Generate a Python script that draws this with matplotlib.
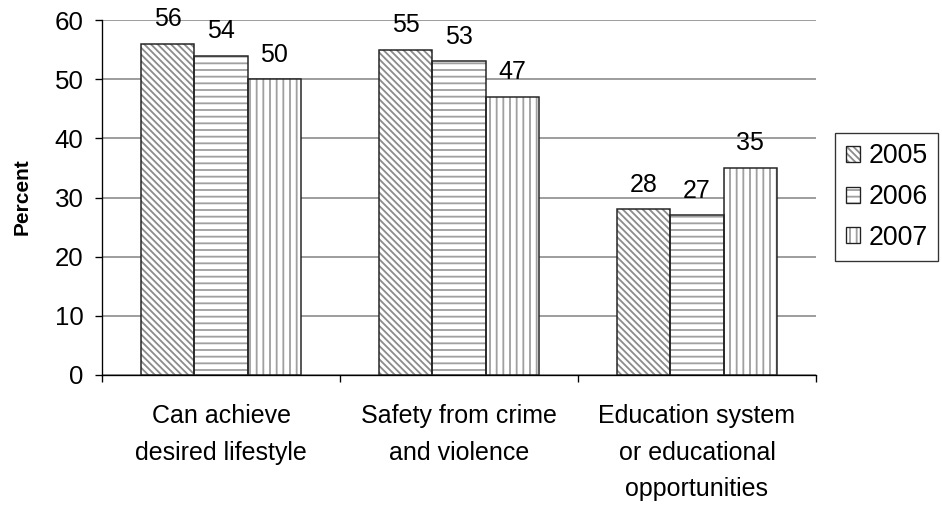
import matplotlib
matplotlib.use("Agg")
import matplotlib.pyplot as plt
import numpy as np
from matplotlib.patches import Patch
from matplotlib.legend_handler import HandlerTuple

categories = ["Can achieve\ndesired lifestyle", "Safety from crime\nand violence",
              "Education system\nor educational\nopportunities"]
years = ["2005", "2006", "2007"]
v2005 = [56, 55, 28]
v2006 = [54, 53, 27]
v2007 = [50, 47, 35]
series = [v2005, v2006, v2007]
yticks = [0, 10, 20, 30, 40, 50, 60]

plt.rcParams['font.family'] = ['Liberation Sans', 'DejaVu Sans']
plt.rcParams['hatch.linewidth'] = 1.1

DPI = 120
fig = plt.figure(figsize=(942 / DPI, 506 / DPI), dpi=DPI)
ax = fig.add_axes([102 / 942, 1 - 375 / 506, (816 - 102) / 942, (375 - 20) / 506])

hatches = ['\\\\\\\\\\\\', '---', '|||']
hatch_colors = ['#8c8c8c', '#a0a0a0', '#a0a0a0']
edge = '#222222'
w = 0.224
x = np.arange(len(categories))
for i, vals in enumerate(series):
    pos = x + (i - 1) * w
    ax.bar(pos, vals, w, facecolor='white', edgecolor=hatch_colors[i],
           hatch=hatches[i], linewidth=0, zorder=2)
    ax.bar(pos, vals, w, fill=False, edgecolor=edge, linewidth=0.9, zorder=3)
    for p, v in zip(pos, vals):
        ax.annotate(str(v), (p, v), xytext=(0, 7.5), textcoords='offset points',
                    ha='center', va='bottom', fontsize=15, color='black')

ax.set_xlim(-0.5, len(categories) - 0.5)
ax.set_ylim(0, 60)
ax.set_yticks(yticks)
ax.yaxis.grid(True, color='#808080', linewidth=0.9)
ax.set_axisbelow(True)
ax.tick_params(axis='y', labelsize=15.5, length=4.2, width=0.8, pad=7, colors='black')

ax.set_xticks(x)
ax.set_xticklabels(categories, fontsize=15, linespacing=1.65)
ax.tick_params(axis='x', which='major', length=0, pad=17.5)
ax.set_xticks(np.arange(len(categories) + 1) - 0.5, minor=True)
ax.tick_params(axis='x', which='minor', length=4.2, width=0.8, direction='out')

for s in ['top', 'right']:
    ax.spines[s].set_visible(False)
ax.spines['left'].set_linewidth(0.8)
ax.spines['bottom'].set_linewidth(0.8)

fig.text(22 / 942, 1 - 197 / 506, 'Percent', rotation=90, ha='center', va='center',
         fontsize=12.5, fontweight='bold')

handles = [(Patch(facecolor='white', edgecolor=hatch_colors[i], hatch=hatches[i], linewidth=0),
            Patch(fill=False, edgecolor=edge, linewidth=0.8)) for i in range(3)]
leg = fig.legend(handles, years, loc='center', bbox_to_anchor=(886.5 / 942, 1 - 197 / 506),
                 handler_map={tuple: HandlerTuple(ndivide=1)}, fontsize=16,
                 frameon=True, fancybox=False, edgecolor='#333333', framealpha=1,
                 handlelength=0.55, handleheight=0.55, handletextpad=0.3,
                 labelspacing=0.55, borderpad=0.4, borderaxespad=0)
leg.get_frame().set_linewidth(0.8)

fig.savefig('out.png', dpi=DPI)
